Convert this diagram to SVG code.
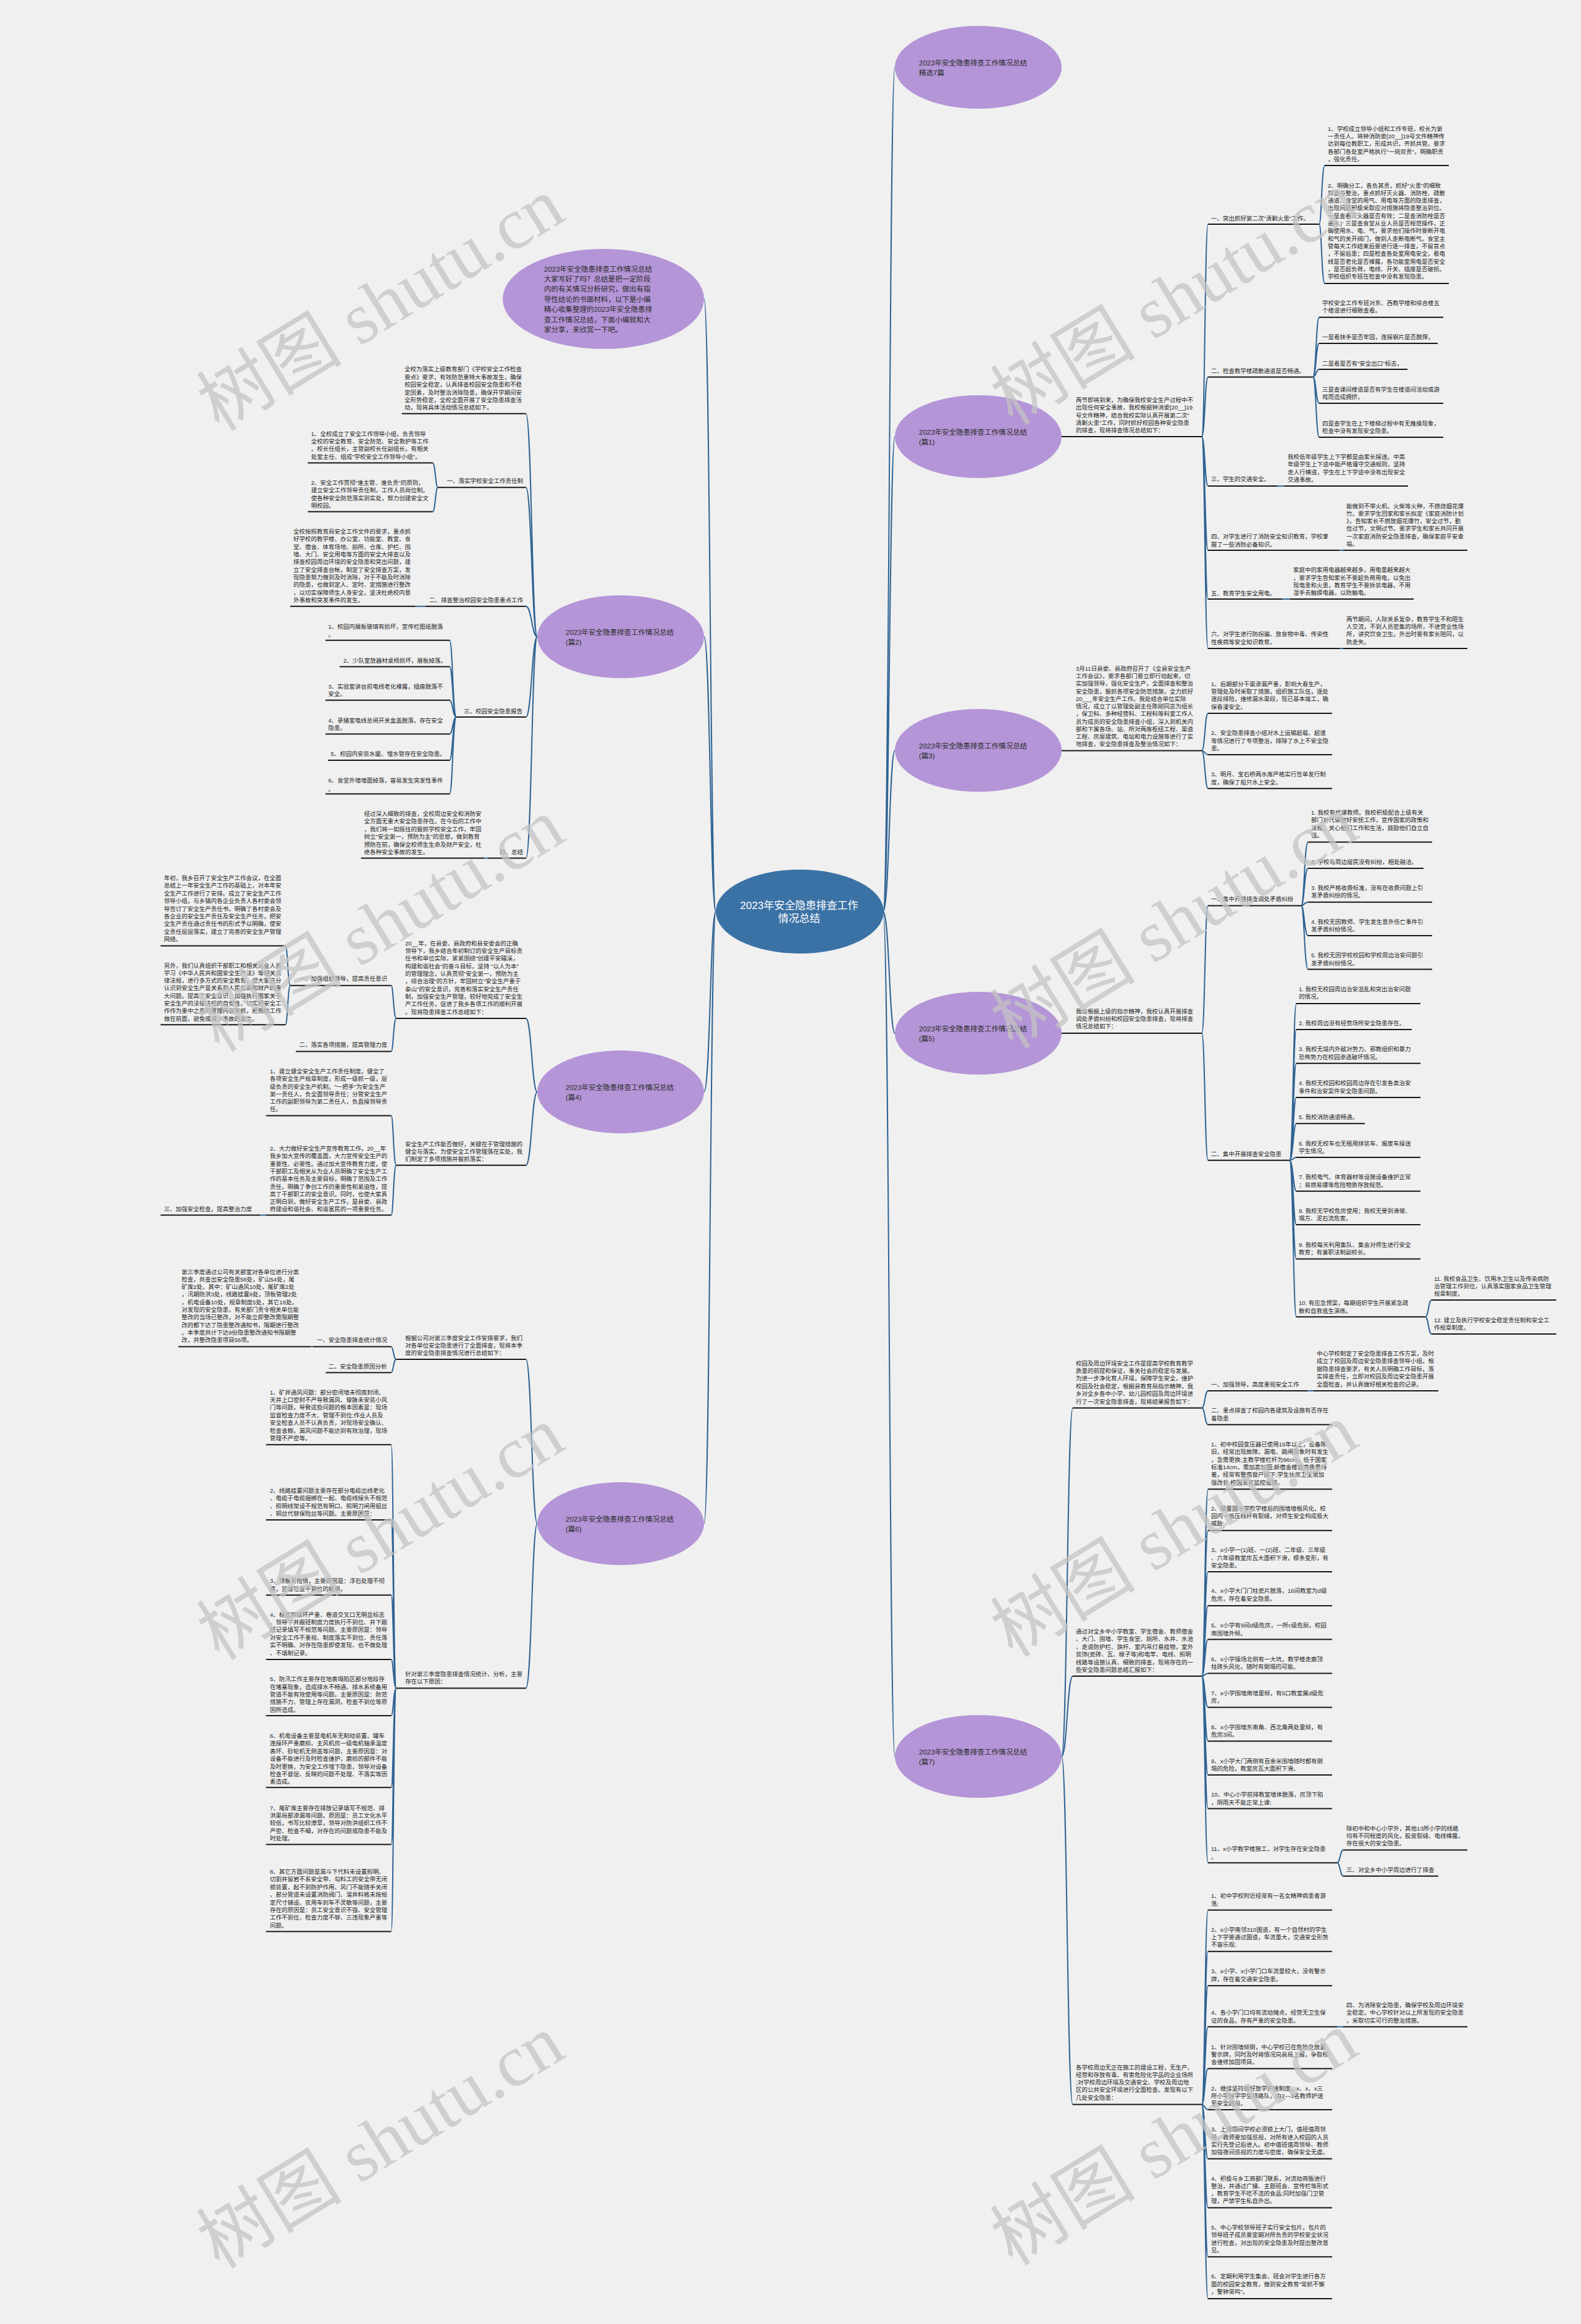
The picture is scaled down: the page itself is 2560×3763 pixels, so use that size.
<svg xmlns="http://www.w3.org/2000/svg" width="2560" height="3763" viewBox="0 0 2560 3763">
<style>
.t{font-family:'Liberation Sans','Noto Sans CJK SC',sans-serif;font-size:9.5px;fill:#1e1e1e}
.et{font-family:'Liberation Sans','Noto Sans CJK SC',sans-serif;font-size:11.5px;fill:#2a2a2a}
.ct{font-family:'Liberation Sans','Noto Sans CJK SC',sans-serif;font-size:17px;fill:#ffffff;text-anchor:middle}
.u{stroke:#161616;stroke-width:2;fill:none}
.c{stroke:#2f6393;stroke-width:2;fill:none}
.e{fill:#b495d7}
.wm{font-family:'Liberation Serif','Noto Sans CJK SC',serif;font-size:118px;fill:#c4c4c4;opacity:.75}
</style>
<rect width="2560" height="3763" fill="#f0f0f0"/>
<g id="connectors">
<path class="c" d="M1430 1476C1440 1476 1440 109 1449 109M1430 1476C1440 1476 1440 707 1449 707M1430 1476C1440 1476 1440 1215 1449 1215M1430 1476C1440 1476 1440 1673 1449 1673M1430 1476C1440 1476 1440 2844 1449 2844"/>
<path class="c" d="M1159 1476C1150 1476 1150 484 1140 484M1159 1476C1150 1476 1150 1031 1140 1031M1159 1476C1150 1476 1150 1768 1140 1768M1159 1476C1150 1476 1150 2467 1140 2467"/>
<path class="c" d="M1946 707C1951 707 1951 363 1956 363M1946 707C1951 707 1951 610.5 1956 610.5M1946 707C1951 707 1951 787 1956 787M1946 707C1951 707 1951 891 1956 891M1946 707C1951 707 1951 970 1956 970M1946 707C1951 707 1951 1050 1956 1050"/>
<path class="c" d="M2136 363C2140 363 2140 268 2145 268M2136 363C2140 363 2140 459 2145 459"/>
<path class="c" d="M2126 610.5C2131 610.5 2131 513.7 2136 513.7M2126 610.5C2131 610.5 2131 556 2136 556M2126 610.5C2131 610.5 2131 598 2136 598M2126 610.5C2131 610.5 2131 653 2136 653M2126 610.5C2131 610.5 2131 708 2136 708"/>
<path class="c" d="M2068 787H2080M2169 891H2175M2076 970H2089M2169 1050H2175"/>
<path class="c" d="M1946 1215.5C1951 1215.5 1951 1155 1956 1155M1946 1215.5C1951 1215.5 1951 1222 1956 1222M1946 1215.5C1951 1215.5 1951 1276.7 1956 1276.7"/>
<path class="c" d="M1946 1673C1951 1673 1951 1466.5 1956 1466.5M1946 1673C1951 1673 1951 1878.7 1956 1878.7"/>
<path class="c" d="M2107 1466.5C2112 1466.5 2112 1363.6 2118 1363.6M2107 1466.5C2112 1466.5 2112 1406 2118 1406M2107 1466.5C2112 1466.5 2112 1460.7 2118 1460.7M2107 1466.5C2112 1466.5 2112 1515 2118 1515M2107 1466.5C2112 1466.5 2112 1569.4 2118 1569.4"/>
<path class="c" d="M2088 1878.7C2094 1878.7 2094 1625 2099 1625M2088 1878.7C2094 1878.7 2094 1667 2099 1667M2088 1878.7C2094 1878.7 2094 1721.7 2099 1721.7M2088 1878.7C2094 1878.7 2094 1776.9 2099 1776.9M2088 1878.7C2094 1878.7 2094 1819.3 2099 1819.3M2088 1878.7C2094 1878.7 2094 1874 2099 1874M2088 1878.7C2094 1878.7 2094 1928.8 2099 1928.8M2088 1878.7C2094 1878.7 2094 1983 2099 1983M2088 1878.7C2094 1878.7 2094 2038.6 2099 2038.6M2088 1878.7C2094 1878.7 2094 2132.3 2099 2132.3"/>
<path class="c" d="M2308 2132.3C2313 2132.3 2313 2105 2318 2105M2308 2132.3C2313 2132.3 2313 2160 2318 2160"/>
<path class="c" d="M1719 2844C1728 2844 1728 2279.7 1737 2279.7M1719 2844C1728 2844 1728 2714 1737 2714M1719 2844C1728 2844 1728 3407.6 1737 3407.6"/>
<path class="c" d="M1946 2279.7C1951 2279.7 1951 2252 1956 2252M1946 2279.7C1951 2279.7 1951 2306.8 1956 2306.8M2117 2252H2127"/>
<path class="c" d="M1946 2714C1951 2714 1951 2411.3 1956 2411.3M1946 2714C1951 2714 1951 2478.3 1956 2478.3M1946 2714C1951 2714 1951 2545 1956 2545M1946 2714C1951 2714 1951 2600 1956 2600M1946 2714C1951 2714 1951 2654.6 1956 2654.6M1946 2714C1951 2714 1951 2709.4 1956 2709.4M1946 2714C1951 2714 1951 2764.5 1956 2764.5M1946 2714C1951 2714 1951 2819.2 1956 2819.2M1946 2714C1951 2714 1951 2874 1956 2874M1946 2714C1951 2714 1951 2928.6 1956 2928.6M1946 2714C1951 2714 1951 3016.3 1956 3016.3"/>
<path class="c" d="M2165 3016.3C2170 3016.3 2170 2995.6 2175 2995.6M2165 3016.3C2170 3016.3 2170 3037.7 2175 3037.7"/>
<path class="c" d="M1946 3407.6C1951 3407.6 1951 3092.8 1956 3092.8M1946 3407.6C1951 3407.6 1951 3159.8 1956 3159.8M1946 3407.6C1951 3407.6 1951 3215.2 1956 3215.2M1946 3407.6C1951 3407.6 1951 3281.8 1956 3281.8M1946 3407.6C1951 3407.6 1951 3349.5 1956 3349.5M1946 3407.6C1951 3407.6 1951 3416 1956 3416M1946 3407.6C1951 3407.6 1951 3495.6 1956 3495.6M1946 3407.6C1951 3407.6 1951 3574.8 1956 3574.8M1946 3407.6C1951 3407.6 1951 3654.3 1956 3654.3M1946 3407.6C1951 3407.6 1951 3722 1956 3722M2165 3281.8H2175"/>
<path class="c" d="M870 1031C861 1031 861 669.8 851.6 669.8M870 1031C861 1031 861 789.2 851.6 789.2M870 1031C861 1031 861 981.7 851.6 981.7M870 1031C861 1031 861 1161 851.6 1161M870 1031C861 1031 861 1389.6 851.6 1389.6"/>
<path class="c" d="M709 789.2C705 789.2 705 749.4 700.6 749.4M709 789.2C705 789.2 705 828.6 700.6 828.6M689 981.7H672M790 1389.6H784.5"/>
<path class="c" d="M739 1161C733 1161 733 1036.7 728 1036.7M739 1161C733 1161 733 1079.6 728 1079.6M739 1161C733 1161 733 1133.8 728 1133.8M739 1161C733 1161 733 1188.5 728 1188.5M739 1161C733 1161 733 1231 728 1231M739 1161C733 1161 733 1285.6 728 1285.6"/>
<path class="c" d="M870 1768C861 1768 861 1649 851.6 1649M870 1768C861 1768 861 1886.8 851.6 1886.8"/>
<path class="c" d="M641.7 1649C637 1649 637 1595.7 633.5 1595.7M641.7 1649C637 1649 637 1702.4 633.5 1702.4M470 1595.7C466 1595.7 466 1531.6 462 1531.6M470 1595.7C466 1595.7 466 1659.2 462 1659.2"/>
<path class="c" d="M641.7 1886.8C637 1886.8 637 1806.5 633.5 1806.5M641.7 1886.8C637 1886.8 637 1967.6 633.5 1967.6M430.7 1967.6H421"/>
<path class="c" d="M870 2467C861 2467 861 2201 851.6 2201M870 2467C861 2467 861 2733.6 851.6 2733.6"/>
<path class="c" d="M641.7 2201C637 2201 637 2180.6 633.5 2180.6M641.7 2201C637 2201 637 2222.6 633.5 2222.6M507 2180.6H503"/>
<path class="c" d="M641.7 2733.6C637 2733.6 637 2339.2 633.5 2339.2M641.7 2733.6C637 2733.6 637 2461 633.5 2461M641.7 2733.6C637 2733.6 637 2582.8 633.5 2582.8M641.7 2733.6C637 2733.6 637 2687 633.5 2687M641.7 2733.6C637 2733.6 637 2778 633.5 2778M641.7 2733.6C637 2733.6 637 2894.3 633.5 2894.3M641.7 2733.6C637 2733.6 637 2986.5 633.5 2986.5M641.7 2733.6C637 2733.6 637 3127.4 633.5 3127.4"/>
</g>
<g id="center"><ellipse cx="1295" cy="1476" rx="136" ry="68" fill="#3b72a5"/><text class="ct" x="1294" y="1472">2023年安全隐患排查工作</text><text class="ct" x="1294" y="1493">情况总结</text></g>
<g id="b-intro"><ellipse class="e" cx="977" cy="484" rx="163" ry="81"/><text class="et" x="881" y="439.6"><tspan x="881">2023年安全隐患排查工作情况总结</tspan><tspan x="881" dy="16.4">大家写好了吗？总结是把一定阶段</tspan><tspan x="881" dy="16.4">内的有关情况分析研究，做出有指</tspan><tspan x="881" dy="16.4">导性结论的书面材料，以下是小编</tspan><tspan x="881" dy="16.4">精心收集整理的2023年安全隐患排</tspan><tspan x="881" dy="16.4">查工作情况总结，下面小编就和大</tspan><tspan x="881" dy="16.4">家分享，来欣赏一下吧。</tspan></text></g>
<g id="b-jx"><ellipse class="e" cx="1584" cy="109" rx="135" ry="67"/><text class="et" x="1488" y="106"><tspan x="1488">2023年安全隐患排查工作情况总结</tspan><tspan x="1488" dy="16">精选7篇</tspan></text></g>
<g id="b-p1"><ellipse class="e" cx="1584" cy="707" rx="135" ry="67"/><text class="et" x="1488" y="704"><tspan x="1488">2023年安全隐患排查工作情况总结</tspan><tspan x="1488" dy="16">(篇1)</tspan></text></g>
<g id="b-p3"><ellipse class="e" cx="1584" cy="1215" rx="135" ry="67"/><text class="et" x="1488" y="1212"><tspan x="1488">2023年安全隐患排查工作情况总结</tspan><tspan x="1488" dy="16">(篇3)</tspan></text></g>
<g id="b-p5"><ellipse class="e" cx="1584" cy="1673" rx="135" ry="67"/><text class="et" x="1488" y="1670"><tspan x="1488">2023年安全隐患排查工作情况总结</tspan><tspan x="1488" dy="16">(篇5)</tspan></text></g>
<g id="b-p7"><ellipse class="e" cx="1584" cy="2844" rx="135" ry="67"/><text class="et" x="1488" y="2841"><tspan x="1488">2023年安全隐患排查工作情况总结</tspan><tspan x="1488" dy="16">(篇7)</tspan></text></g>
<g id="b-p2"><ellipse class="e" cx="1005" cy="1031" rx="135" ry="67"/><text class="et" x="916" y="1028"><tspan x="916">2023年安全隐患排查工作情况总结</tspan><tspan x="916" dy="16">(篇2)</tspan></text></g>
<g id="b-p4"><ellipse class="e" cx="1005" cy="1768" rx="135" ry="67"/><text class="et" x="916" y="1765"><tspan x="916">2023年安全隐患排查工作情况总结</tspan><tspan x="916" dy="16">(篇4)</tspan></text></g>
<g id="b-p6"><ellipse class="e" cx="1005" cy="2467" rx="135" ry="67"/><text class="et" x="916" y="2464"><tspan x="916">2023年安全隐患排查工作情况总结</tspan><tspan x="916" dy="16">(篇6)</tspan></text></g>

<g id="p1-intro"><text class="t" x="1742" y="651"><tspan x="1742">两节即将到来，为确保我校安全生产过程中不</tspan><tspan x="1742" dy="12.3">出现任何安全事故，我校根据钟消委[20__]19</tspan><tspan x="1742" dy="12.3">号文件精神，结合我校实际认真开展第二次"</tspan><tspan x="1742" dy="12.3">清剿火患"工作，同时抓好校园各种安全隐患</tspan><tspan x="1742" dy="12.3">的排查，现将排查情况总结如下：</tspan></text><path class="u" d="M1719 707H1946"/></g>
<g id="p1-1"><text class="t" x="1961" y="356.5">一、突出抓好第二次"清剿火患"工作。</text><path class="u" d="M1956 363H2136"/></g>
<g id="p1-1-1"><text class="t" x="2150" y="211.5"><tspan x="2150">1、学校成立领导小组和工作专班，校长为第</tspan><tspan x="2150" dy="12.4">一责任人。将钟消防委[20__]19号文件精神传</tspan><tspan x="2150" dy="12.4">达到每位教职工，形成共识，齐抓共管。要求</tspan><tspan x="2150" dy="12.4">各部门各处室严格执行"一岗双责"，明确职责</tspan><tspan x="2150" dy="12.4">，强化责任。</tspan></text><path class="u" d="M2145 268H2346"/></g>
<g id="p1-1-2"><text class="t" x="2150" y="303.5"><tspan x="2150">2、明确分工，各负其责，抓好"火患"的细致</tspan><tspan x="2150" dy="12.33">排查与整治，重点抓好灭火器、消防栓、疏散</tspan><tspan x="2150" dy="12.33">通道、食堂的用气、用电等方面的隐患排查，</tspan><tspan x="2150" dy="12.33">出现问题积极采取应对措施将隐患整治到位。</tspan><tspan x="2150" dy="12.33">一是查看灭火器是否有效；二是查消防栓是否</tspan><tspan x="2150" dy="12.33">通水；三是查食堂从业人员是否规范操作，正</tspan><tspan x="2150" dy="12.33">确使用水、电、气，要求他们操作时要断开电</tspan><tspan x="2150" dy="12.33">和气的关开阀门，做到人走断电断气。食堂主</tspan><tspan x="2150" dy="12.33">管每天工作结束后要进行逐一排查，不留盲点</tspan><tspan x="2150" dy="12.33">，不留后患；四是检查各处室用电安全，看电</tspan><tspan x="2150" dy="12.33">线是否老化是否裸露，各功能室用电是否安全</tspan><tspan x="2150" dy="12.33">，是否超负荷，电线、开关、插座是否破损。</tspan><tspan x="2150" dy="12.33">学校组织专班在检查中没有发现隐患。</tspan></text><path class="u" d="M2145 459H2346"/></g>
<g id="p1-2"><text class="t" x="1961" y="603.5">二、检查教学楼疏散通道是否畅通。</text><path class="u" d="M1956 610.5H2126"/></g>
<g id="p1-2-a"><text class="t" x="2141" y="493.5"><tspan x="2141">学校安全工作专班对东、西教学楼和综合楼五</tspan><tspan x="2141" dy="12.5">个楼道进行细致查看。</tspan></text><path class="u" d="M2136 513.7H2337"/></g>
<g id="p1-2-b"><text class="t" x="2141" y="549">一是看扶手是否牢固，连接钢片是否脱焊，</text><path class="u" d="M2136 556H2328"/></g>
<g id="p1-2-c"><text class="t" x="2141" y="591.5">二是看是否有"安全出口"标志，</text><path class="u" d="M2136 598H2279"/></g>
<g id="p1-2-d"><text class="t" x="2141" y="634"><tspan x="2141">三是查课间楼道是否有学生在楼道间活动或游</tspan><tspan x="2141" dy="12.3">戏而造成拥挤，</tspan></text><path class="u" d="M2136 653H2337"/></g>
<g id="p1-2-e"><text class="t" x="2141" y="688.5"><tspan x="2141">四是查学生在上下楼梯过程中有无推搡现象，</tspan><tspan x="2141" dy="12.3">检查中没有发现安全隐患。</tspan></text><path class="u" d="M2136 708H2337"/></g>
<g id="p1-3"><text class="t" x="1961" y="779">三、学生的交通安全。</text><path class="u" d="M1956 787H2068"/></g>
<g id="p1-3-a"><text class="t" x="2085" y="743"><tspan x="2085">我校低年级学生上下学都是由家长接送。中高</tspan><tspan x="2085" dy="12.3">年级学生上下途中能严格遵守交通规则，坚持</tspan><tspan x="2085" dy="12.3">走人行横道，学生在上下学途中没有出现安全</tspan><tspan x="2085" dy="12.3">交通事故。</tspan></text><path class="u" d="M2080 787H2280"/></g>
<g id="p1-4"><text class="t" x="1961" y="872.3"><tspan x="1961">四、对学生进行了消防安全知识教育，学校掌</tspan><tspan x="1961" dy="12.3">握了一些消防必备知识。</tspan></text><path class="u" d="M1956 891H2169"/></g>
<g id="p1-4-a"><text class="t" x="2180" y="822.5"><tspan x="2180">能做到不带火机、火柴等火种，不燃烧烟花爆</tspan><tspan x="2180" dy="12.3">竹。要求学生回家和家长拟定《家庭消防计划</tspan><tspan x="2180" dy="12.3">》，告知家长不燃放烟花爆竹，安全过节，勤</tspan><tspan x="2180" dy="12.3">俭过节，文明过节。要求学生和家长共同开展</tspan><tspan x="2180" dy="12.3">一次家庭消防安全隐患排查，确保家庭平安幸</tspan><tspan x="2180" dy="12.3">福。</tspan></text><path class="u" d="M2175 891H2376"/></g>
<g id="p1-5"><text class="t" x="1961" y="963.5">五、教育学生安全用电。</text><path class="u" d="M1956 970H2076"/></g>
<g id="p1-5-a"><text class="t" x="2094" y="926.2"><tspan x="2094">家庭中的家用电器越来越多，用电量越来越大</tspan><tspan x="2094" dy="12.3">，要求学生告知家长不要超负荷用电，以免出</tspan><tspan x="2094" dy="12.3">现电患和火患，教育学生不要拆装电器，不用</tspan><tspan x="2094" dy="12.3">湿手去触摸电器，以防触电。</tspan></text><path class="u" d="M2089 970H2289"/></g>
<g id="p1-6"><text class="t" x="1961" y="1030.3"><tspan x="1961">六、对学生进行防拐骗、放食物中毒、传染性</tspan><tspan x="1961" dy="12.3">性疾病等安全知识教育。</tspan></text><path class="u" d="M1956 1050H2169"/></g>
<g id="p1-6-a"><text class="t" x="2180" y="1005.8"><tspan x="2180">两节期间，人际关系复杂，教育学生不和陌生</tspan><tspan x="2180" dy="12.3">人交流，不到人员密集的场所，不进营业性场</tspan><tspan x="2180" dy="12.3">所，讲究饮食卫生。外出时要有家长陪同，以</tspan><tspan x="2180" dy="12.3">防走失。</tspan></text><path class="u" d="M2175 1050H2376"/></g>

<g id="p3-intro"><text class="t" x="1742" y="1085.8"><tspan x="1742">3月11日县委、县政府召开了《全县安全生产</tspan><tspan x="1742" dy="12.25">工作会议》，要求各部门要立即行动起来，切</tspan><tspan x="1742" dy="12.25">实加强领导，强化安全生产，全面排查和整治</tspan><tspan x="1742" dy="12.25">安全隐患，狠抓各项安全防范措施，全力抓好</tspan><tspan x="1742" dy="12.25">20___年安全生产工作。我处结合单位实际</tspan><tspan x="1742" dy="12.25">情况，成立了以管理处副主任陈刚同志为组长</tspan><tspan x="1742" dy="12.25">，保卫科、多种经营科、工程科等科室工作人</tspan><tspan x="1742" dy="12.25">员为成员的安全隐患排查小组，深入到机关内</tspan><tspan x="1742" dy="12.25">部和下属各场、站、所对两库枢纽工程、渠道</tspan><tspan x="1742" dy="12.25">工程、房屋建筑、电站和电力设施等进行了实</tspan><tspan x="1742" dy="12.25">地排查，安全隐患排查及整治情况如下：</tspan></text><path class="u" d="M1719 1215.5H1946"/></g>
<g id="p3-1"><text class="t" x="1961" y="1110.7"><tspan x="1961">1、后期部分干渠渗漏严重，影响大春生产，</tspan><tspan x="1961" dy="12.3">管理处及时采取了措施，组织施工队伍，逐处</tspan><tspan x="1961" dy="12.3">逐段排险，维修漏水渠段，现已基本竣工，确</tspan><tspan x="1961" dy="12.3">保春灌安全。</tspan></text><path class="u" d="M1956 1155H2157"/></g>
<g id="p3-2"><text class="t" x="1961" y="1190.3"><tspan x="1961">2、安全隐患排查小组对水上运输超载、超速</tspan><tspan x="1961" dy="12.3">等情况进行了专项整治，排除了水上不安全隐</tspan><tspan x="1961" dy="12.3">患。</tspan></text><path class="u" d="M1956 1222H2157"/></g>
<g id="p3-3"><text class="t" x="1961" y="1257.3"><tspan x="1961">3、明月、宝石桥两水库严格实行签单发行制</tspan><tspan x="1961" dy="12.3">度，确保了船只水上安全。</tspan></text><path class="u" d="M1956 1276.7H2157"/></g>

<g id="p5-intro"><text class="t" x="1742" y="1640.5"><tspan x="1742">我校根据上级的指示精神，我校认真开展排查</tspan><tspan x="1742" dy="12.4">调处矛盾纠纷和校园安全隐患排查，现将排查</tspan><tspan x="1742" dy="12.4">情况总结如下：</tspan></text><path class="u" d="M1719 1673H1946"/></g>
<g id="p5-1"><text class="t" x="1961" y="1459.3">一、集中开展排查调处矛盾纠纷</text><path class="u" d="M1956 1466.5H2107"/></g>
<g id="p5-1-1"><text class="t" x="2123" y="1318.5"><tspan x="2123">1. 我校有代课教师。我校积极配合上级有关</tspan><tspan x="2123" dy="12.5">部门对代课做好安抚工作，宣传国家的政策和</tspan><tspan x="2123" dy="12.5">法规，关心他们工作和生活，鼓励他们自立自</tspan><tspan x="2123" dy="12.5">强。</tspan></text><path class="u" d="M2118 1363.6H2319"/></g>
<g id="p5-1-2"><text class="t" x="2123" y="1398.8">2. 学校与周边居民没有纠纷，相处融洽。</text><path class="u" d="M2118 1406H2305"/></g>
<g id="p5-1-3"><text class="t" x="2123" y="1441"><tspan x="2123">3. 我校严格收费标准，没有在收费问题上引</tspan><tspan x="2123" dy="12.3">发矛盾纠纷的情况。</tspan></text><path class="u" d="M2118 1460.7H2319"/></g>
<g id="p5-1-4"><text class="t" x="2123" y="1495.5"><tspan x="2123">4. 我校无因教师、学生发生意外伤亡事件引</tspan><tspan x="2123" dy="12.3">发矛盾纠纷情况。</tspan></text><path class="u" d="M2118 1515H2319"/></g>
<g id="p5-1-5"><text class="t" x="2123" y="1550.4"><tspan x="2123">5. 我校无因学校校园和学校周边治安问题引</tspan><tspan x="2123" dy="12.3">发矛盾纠纷情况。</tspan></text><path class="u" d="M2118 1569.4H2319"/></g>
<g id="p5-2"><text class="t" x="1961" y="1871.8">二、集中开展排查安全隐患</text><path class="u" d="M1956 1878.7H2088"/></g>
<g id="p5-2-1"><text class="t" x="2103" y="1604.7"><tspan x="2103">1. 我校无校园周边治安混乱和突出治安问题</tspan><tspan x="2103" dy="12.3">的情况。</tspan></text><path class="u" d="M2099 1625H2300"/></g>
<g id="p5-2-2"><text class="t" x="2103" y="1659.8">2. 我校周边没有经营场所安全隐患存在。</text><path class="u" d="M2099 1667H2286"/></g>
<g id="p5-2-3"><text class="t" x="2103" y="1702.3"><tspan x="2103">3. 我校无境内外敌对势力、邪教组织和暴力</tspan><tspan x="2103" dy="12.3">恐怖势力在校园渗透破坏情况。</tspan></text><path class="u" d="M2099 1721.7H2300"/></g>
<g id="p5-2-4"><text class="t" x="2103" y="1757.4"><tspan x="2103">4. 我校无校园和校园周边存在引发各类治安</tspan><tspan x="2103" dy="12.3">事件和治安案件安全隐患问题。</tspan></text><path class="u" d="M2099 1776.9H2300"/></g>
<g id="p5-2-5"><text class="t" x="2103" y="1812">5. 我校消防通道畅通。</text><path class="u" d="M2099 1819.3H2210"/></g>
<g id="p5-2-6"><text class="t" x="2103" y="1854.5"><tspan x="2103">6. 我校无校车也无租用拼装车、报废车接送</tspan><tspan x="2103" dy="12.3">学生情况。</tspan></text><path class="u" d="M2099 1874H2300"/></g>
<g id="p5-2-7"><text class="t" x="2103" y="1909.3"><tspan x="2103">7. 我校电气、体育器材等设施设备维护正常</tspan><tspan x="2103" dy="12.3">；易燃易爆等危险物质存放规范。</tspan></text><path class="u" d="M2099 1928.8H2300"/></g>
<g id="p5-2-8"><text class="t" x="2103" y="1964.1"><tspan x="2103">8. 我校无学校危房使用；我校无受到滑坡、</tspan><tspan x="2103" dy="12.3">塌方、泥石流危害。</tspan></text><path class="u" d="M2099 1983H2300"/></g>
<g id="p5-2-9"><text class="t" x="2103" y="2018.7"><tspan x="2103">9. 我校每天利用集队、集会对师生进行安全</tspan><tspan x="2103" dy="12.3">教育；有兼职法制副校长。</tspan></text><path class="u" d="M2099 2038.6H2300"/></g>
<g id="p5-2-10"><text class="t" x="2103" y="2113.2"><tspan x="2103">10. 有应急预案，每期组织学生开展紧急疏</tspan><tspan x="2103" dy="12.3">散和自救逃生演练。</tspan></text><path class="u" d="M2099 2132.3H2308"/></g>
<g id="p5-2-11"><text class="t" x="2322" y="2073.8"><tspan x="2322">11. 我校食品卫生、饮用水卫生以及传染病防</tspan><tspan x="2322" dy="12.3">治管理工作到位，认真落实国家食品卫生管理</tspan><tspan x="2322" dy="12.3">规章制度。</tspan></text><path class="u" d="M2318 2105H2520"/></g>
<g id="p5-2-12"><text class="t" x="2322" y="2140.5"><tspan x="2322">12. 建立及执行学校安全稳定责任制和安全工</tspan><tspan x="2322" dy="12.3">作规章制度。</tspan></text><path class="u" d="M2318 2160H2520"/></g>

<g id="p7-a"><text class="t" x="1742" y="2210.5"><tspan x="1742">校园及周边环境安全工作是提高学校教育教学</tspan><tspan x="1742" dy="12.4">质量的前提和保证，事关社会的稳定与发展。</tspan><tspan x="1742" dy="12.4">为进一步净化育人环境，保障学生安全，维护</tspan><tspan x="1742" dy="12.4">校园及社会稳定，根据县教育局指示精神，我</tspan><tspan x="1742" dy="12.4">乡对全乡各中小学、幼儿园校园及周边环境进</tspan><tspan x="1742" dy="12.4">行了一次安全隐患排查，现将结果报告如下：</tspan></text><path class="u" d="M1737 2279.7H1946"/></g>
<g id="p7-a-1"><text class="t" x="1961" y="2245">一、加强领导，高度重视安全工作</text><path class="u" d="M1956 2252H2117"/></g>
<g id="p7-a-1-a"><text class="t" x="2132" y="2195"><tspan x="2132">中心学校制定了安全隐患排查工作方案，及时</tspan><tspan x="2132" dy="12.4">成立了校园及周边安全隐患排查领导小组。根</tspan><tspan x="2132" dy="12.4">据隐患排查要求，有关人员明确工作目标，落</tspan><tspan x="2132" dy="12.4">实排查责任，立即对校园及周边安全隐患开展</tspan><tspan x="2132" dy="12.4">全面检查，并认真做好相关检查的记录。</tspan></text><path class="u" d="M2127 2252H2329"/></g>
<g id="p7-a-2"><text class="t" x="1961" y="2287.4"><tspan x="1961">二、重点排查了校园内各建筑及设施有否存在</tspan><tspan x="1961" dy="12.3">着隐患</tspan></text><path class="u" d="M1956 2306.8H2157"/></g>
<g id="p7-b"><text class="t" x="1742" y="2645"><tspan x="1742">通过对全乡中小学教室、学生宿舍、教师宿舍</tspan><tspan x="1742" dy="12.4">、大门、围墙、学生食堂、厕所、水井、水池</tspan><tspan x="1742" dy="12.4">、走道防护栏、旗杆、室内吊灯悬挂物，室外</tspan><tspan x="1742" dy="12.4">装饰(瓷砖、瓦、椽子等)和电竿、电线、照明</tspan><tspan x="1742" dy="12.4">线路等设施认真、细致的排查，现将存在的一</tspan><tspan x="1742" dy="12.4">些安全隐患问题总结汇报如下：</tspan></text><path class="u" d="M1737 2714H1946"/></g>
<g id="p7-b-1"><text class="t" x="1961" y="2342"><tspan x="1961">1、初中校园变压器已使用15年以上，设备陈</tspan><tspan x="1961" dy="12.3">旧，经常出现故障，漏电、跳闸现象时有发生</tspan><tspan x="1961" dy="12.3">，急需更换;主教学楼栏杆为96cm，低于国家</tspan><tspan x="1961" dy="12.3">标准14cm，需加高加固;新宿舍楼窗扇质量特</tspan><tspan x="1961" dy="12.3">差，经常有整扇窗户掉下;学生伙房卫生需加</tspan><tspan x="1961" dy="12.3">强改善;校园没有监控设施。</tspan></text><path class="u" d="M1956 2411.3H2157"/></g>
<g id="p7-b-2"><text class="t" x="1961" y="2445.8"><tspan x="1961">2、镇里固小学教学楼后的围墙墙根风化，校</tspan><tspan x="1961" dy="12.3">园内一低压线杆有裂缝，对师生安全构成极大</tspan><tspan x="1961" dy="12.3">威胁;</tspan></text><path class="u" d="M1956 2478.3H2157"/></g>
<g id="p7-b-3"><text class="t" x="1961" y="2513.2"><tspan x="1961">3、x小学一(1)班、一(2)班、二年级、三年级</tspan><tspan x="1961" dy="12.3">、六年级教室房瓦大面积下滑，檩条变形，有</tspan><tspan x="1961" dy="12.3">安全隐患。</tspan></text><path class="u" d="M1956 2545H2157"/></g>
<g id="p7-b-4"><text class="t" x="1961" y="2579.4"><tspan x="1961">4、x小学大门门柱瓷片脱落，16间教室为d级</tspan><tspan x="1961" dy="12.3">危房，存在着安全隐患。</tspan></text><path class="u" d="M1956 2600H2157"/></g>
<g id="p7-b-5"><text class="t" x="1961" y="2635.2"><tspan x="1961">5、x小学有9间d级危房，一所c级危厕，校园</tspan><tspan x="1961" dy="12.3">南围墙外倾。</tspan></text><path class="u" d="M1956 2654.6H2157"/></g>
<g id="p7-b-6"><text class="t" x="1961" y="2690"><tspan x="1961">6、x小学操场北侧有一大坑，教学楼走廊顶</tspan><tspan x="1961" dy="12.3">柱砖头风化，随时有倒塌的可能。</tspan></text><path class="u" d="M1956 2709.4H2157"/></g>
<g id="p7-b-7"><text class="t" x="1961" y="2744.5"><tspan x="1961">7、x小学围墙南墙里倾，有5口教室属d级危</tspan><tspan x="1961" dy="12.3">房，</tspan></text><path class="u" d="M1956 2764.5H2157"/></g>
<g id="p7-b-8"><text class="t" x="1961" y="2799.7"><tspan x="1961">8、x小学围墙东南角、西北角两处里倾，有</tspan><tspan x="1961" dy="12.3">危房3间。</tspan></text><path class="u" d="M1956 2819.2H2157"/></g>
<g id="p7-b-9"><text class="t" x="1961" y="2854.5"><tspan x="1961">9、x小学大门两侧有百余米围墙随时都有倒</tspan><tspan x="1961" dy="12.3">塌的危险，教室房瓦大面积下滑。</tspan></text><path class="u" d="M1956 2874H2157"/></g>
<g id="p7-b-10"><text class="t" x="1961" y="2909.2"><tspan x="1961">10、中心小学前排教室墙体脱落，房顶下陷</tspan><tspan x="1961" dy="12.3">，阴雨天不能正常上课;</tspan></text><path class="u" d="M1956 2928.6H2157"/></g>
<g id="p7-b-11"><text class="t" x="1961" y="2997.2"><tspan x="1961">11、x小学教学楼施工，对学生存在安全隐患</tspan><tspan x="1961" dy="12.3">。</tspan></text><path class="u" d="M1956 3016.3H2165"/></g>
<g id="p7-b-11-a"><text class="t" x="2180" y="2963.5"><tspan x="2180">除初中和中心小学外，其他13所小学的线路</tspan><tspan x="2180" dy="12.3">均有不同程度的风化，胶皮裂缝、电线裸露，</tspan><tspan x="2180" dy="12.3">存在很大的安全隐患。</tspan></text><path class="u" d="M2175 2995.6H2376"/></g>
<g id="p7-b-11-b"><text class="t" x="2180" y="3030.5">三、对全乡中小学周边进行了排查</text><path class="u" d="M2175 3037.7H2329"/></g>
<g id="p7-c"><text class="t" x="1742" y="3350.7"><tspan x="1742">各学校周边无正在施工的建设工程，无生产、</tspan><tspan x="1742" dy="12.2">经营和存放有毒、有害危险化学品的企业场所</tspan><tspan x="1742" dy="12.2">;对学校周边环境及交通安全、学校及周边地</tspan><tspan x="1742" dy="12.2">区的公共安全环境进行全面检查。发现有以下</tspan><tspan x="1742" dy="12.2">几处安全隐患：</tspan></text><path class="u" d="M1737 3407.6H1946"/></g>
<g id="p7-c-z1"><text class="t" x="1961" y="3073.4"><tspan x="1961">1、初中学校附近经常有一名女精神病患者游</tspan><tspan x="1961" dy="12.3">荡;</tspan></text><path class="u" d="M1956 3092.8H2157"/></g>
<g id="p7-c-z2"><text class="t" x="1961" y="3127.7"><tspan x="1961">2、x小学南邻310国道，有一个自然村的学生</tspan><tspan x="1961" dy="12.3">上下学要通过国道，车流量大，交通安全形势</tspan><tspan x="1961" dy="12.3">不容乐观;</tspan></text><path class="u" d="M1956 3159.8H2157"/></g>
<g id="p7-c-z3"><text class="t" x="1961" y="3195.3"><tspan x="1961">3、x小学、x小学门口车流量较大，没有警示</tspan><tspan x="1961" dy="12.3">牌，存在着交通安全隐患。</tspan></text><path class="u" d="M1956 3215.2H2157"/></g>
<g id="p7-c-z4"><text class="t" x="1961" y="3262.3"><tspan x="1961">4、各小学门口均有流动摊点，经营无卫生保</tspan><tspan x="1961" dy="12.3">证的食品，存有严重的安全隐患。</tspan></text><path class="u" d="M1956 3281.8H2165"/></g>
<g id="p7-c-z4-a"><text class="t" x="2180" y="3250"><tspan x="2180">四、为消除安全隐患，确保学校及周边环境安</tspan><tspan x="2180" dy="12.3">全稳定。中心学校针对以上所发现的安全隐患</tspan><tspan x="2180" dy="12.3">，采取切实可行的整治措施。</tspan></text><path class="u" d="M2175 3281.8H2376"/></g>
<g id="p7-c-m1"><text class="t" x="1961" y="3317.5"><tspan x="1961">1、针对围墙倾倒，中心学校已在危险处放置</tspan><tspan x="1961" dy="12.2">警示牌，同时及时将情况向县局上报，争取校</tspan><tspan x="1961" dy="12.2">舍维修加固项目。</tspan></text><path class="u" d="M1956 3349.5H2157"/></g>
<g id="p7-c-m2"><text class="t" x="1961" y="3384.8"><tspan x="1961">2、继续坚持做好放学护送制度。x、x、x三</tspan><tspan x="1961" dy="12.2">所小学放学学生排路队，由2—3名教师护送</tspan><tspan x="1961" dy="12.2">至安全路段。</tspan></text><path class="u" d="M1956 3416H2157"/></g>
<g id="p7-c-m3"><text class="t" x="1961" y="3451.4"><tspan x="1961">3、上课期间学校必须锁上大门，值班值周领</tspan><tspan x="1961" dy="12.2">导、教师要加强巡视，对所有进入校园的人员</tspan><tspan x="1961" dy="12.2">实行先登记后进入。初中值班值周领导、教师</tspan><tspan x="1961" dy="12.2">加强夜间巡视的力度与密度，确保安全无虞。</tspan></text><path class="u" d="M1956 3495.6H2157"/></g>
<g id="p7-c-m4"><text class="t" x="1961" y="3530.5"><tspan x="1961">4、积极与乡工商部门联系，对流动商贩进行</tspan><tspan x="1961" dy="12.2">整治，并通过广播、主题班会、宣传栏等形式</tspan><tspan x="1961" dy="12.2">，教育学生不吃不洁的食品;同时加强门卫管</tspan><tspan x="1961" dy="12.2">理，严禁学生私自外出。</tspan></text><path class="u" d="M1956 3574.8H2157"/></g>
<g id="p7-c-m5"><text class="t" x="1961" y="3610.1"><tspan x="1961">5、中心学校领导班子实行安全包片，包片的</tspan><tspan x="1961" dy="12.2">领导班子成员要定期对所负责的学校安全状况</tspan><tspan x="1961" dy="12.2">进行检查，对出现的安全隐患及时提出整改意</tspan><tspan x="1961" dy="12.2">见。</tspan></text><path class="u" d="M1956 3654.3H2157"/></g>
<g id="p7-c-m6"><text class="t" x="1961" y="3689.3"><tspan x="1961">6、定期利用学生集会、班会对学生进行各方</tspan><tspan x="1961" dy="12.2">面的校园安全教育，做到安全教育"常抓不懈</tspan><tspan x="1961" dy="12.2">，警钟常鸣"。</tspan></text><path class="u" d="M1956 3722H2157"/></g>

<g id="p2-intro"><text class="t" x="655" y="601.4"><tspan x="655">全校为落实上级教育部门《学校安全工作检查</tspan><tspan x="655" dy="12.4">要点》要求，有效防范重特大事故发生，确保</tspan><tspan x="655" dy="12.4">校园安全稳定，认真排查校园安全隐患和不稳</tspan><tspan x="655" dy="12.4">定因素，及时整治消除隐患，确保开学期间安</tspan><tspan x="655" dy="12.4">全形势稳定，全校全面开展了安全隐患排查活</tspan><tspan x="655" dy="12.4">动，现将具体活动情况总结如下。</tspan></text><path class="u" d="M650.7 669.8H851.6"/></g>
<g id="p2-1"><text class="t" x="723.6" y="782.4">一、落实学校安全工作责任制</text><path class="u" d="M709 789.2H851.6"/></g>
<g id="p2-1-1"><text class="t" x="503.7" y="705.8"><tspan x="503.7">1、全校成立了安全工作领导小组，负责领导</tspan><tspan x="503.7" dy="12.3">全校的安全教育、安全防范、安全救护等工作</tspan><tspan x="503.7" dy="12.3">。校长任组长，主管副校长任副组长，有相关</tspan><tspan x="503.7" dy="12.3">处室主任、组成"学校安全工作领导小组"。</tspan></text><path class="u" d="M498.5 749.4H700.6"/></g>
<g id="p2-1-2"><text class="t" x="503.7" y="785.1"><tspan x="503.7">2、安全工作贯彻"谁主管、谁负责"的原则，</tspan><tspan x="503.7" dy="12.3">建立安全工作领导责任制，工作人员岗位制。</tspan><tspan x="503.7" dy="12.3">使各种安全防范落实到实处，努力创建安全文</tspan><tspan x="503.7" dy="12.3">明校园。</tspan></text><path class="u" d="M498.5 828.6H700.6"/></g>
<g id="p2-2"><text class="t" x="695" y="975">二、排查整治校园安全隐患重点工作</text><path class="u" d="M689 981.7H851.6"/></g>
<g id="p2-2-a"><text class="t" x="475" y="864"><tspan x="475">全校按照教育局安全工作文件的要求，重点抓</tspan><tspan x="475" dy="12.35">好学校的教学楼、办公室、功能室、教室、食</tspan><tspan x="475" dy="12.35">堂、宿舍、体育场地、厕所、仓库、护栏、围</tspan><tspan x="475" dy="12.35">墙、大门、安全用电等方面的安全大排查以及</tspan><tspan x="475" dy="12.35">排查校园周边环境的安全隐患和突出问题，建</tspan><tspan x="475" dy="12.35">立了安全排查台帐，制定了安全排查方案，发</tspan><tspan x="475" dy="12.35">现隐患努力做到及时消除，对于不能及时消除</tspan><tspan x="475" dy="12.35">的隐患，也做到定人、定时、定措施进行整改</tspan><tspan x="475" dy="12.35">，以切实保障师生人身安全，坚决杜绝校内意</tspan><tspan x="475" dy="12.35">外事故和突发事件的发生。</tspan></text><path class="u" d="M470 981.7H672"/></g>
<g id="p2-3"><text class="t" x="751" y="1154.5">三、校园安全隐患报告</text><path class="u" d="M739 1161H851.6"/></g>
<g id="p2-3-1"><text class="t" x="531.5" y="1017.8"><tspan x="531.5">1、校园内展板玻璃有损坏，宣传栏图纸脱落</tspan><tspan x="531.5" dy="13">。</tspan></text><path class="u" d="M527 1036.7H728"/></g>
<g id="p2-3-2"><text class="t" x="556" y="1073">2、少队室放器材桌椅损坏，展板掉落。</text><path class="u" d="M550 1079.6H728"/></g>
<g id="p2-3-3"><text class="t" x="531.5" y="1114.5"><tspan x="531.5">3、实验室讲台前电线老化裸露，插座脱落不</tspan><tspan x="531.5" dy="12.5">安全。</tspan></text><path class="u" d="M527 1133.8H728"/></g>
<g id="p2-3-4"><text class="t" x="531.5" y="1169.5"><tspan x="531.5">4、录播室电线总闸开关盒盖脱落，存在安全</tspan><tspan x="531.5" dy="12.3">隐患。</tspan></text><path class="u" d="M527 1188.5H728"/></g>
<g id="p2-3-5"><text class="t" x="535.6" y="1224.2">5、校园内安装水暖、埋水管存在安全隐患。</text><path class="u" d="M531 1231H728"/></g>
<g id="p2-3-6"><text class="t" x="531.5" y="1266.5"><tspan x="531.5">6、食堂外墙墙面掉落，容易发生突发性事件</tspan><tspan x="531.5" dy="14">。</tspan></text><path class="u" d="M527 1285.6H728"/></g>
<g id="p2-4"><text class="t" x="809" y="1383">四、总结</text><path class="u" d="M790 1389.6H851.6"/></g>
<g id="p2-4-a"><text class="t" x="589.5" y="1321"><tspan x="589.5">经过深入细致的排查，全校周边安全和消防安</tspan><tspan x="589.5" dy="12.4">全方面无重大安全隐患存在。在今后的工作中</tspan><tspan x="589.5" dy="12.4">，我们将一如既往的狠抓学校安全工作，牢固</tspan><tspan x="589.5" dy="12.4">树立"安全第一，预防为主"的思想，做到教育</tspan><tspan x="589.5" dy="12.4">预防在前，确保全校师生生命及财产安全，杜</tspan><tspan x="589.5" dy="12.4">绝各种安全事故的发生。</tspan></text><path class="u" d="M584.6 1389.6H784.5"/></g>

<g id="p4-intro"><text class="t" x="656" y="1530.5"><tspan x="656">20__年，在县委、县政府和县安委会的正确</tspan><tspan x="656" dy="12.35">领导下，我乡结合年初制订的安全生产目标责</tspan><tspan x="656" dy="12.35">任书和单位实际，紧紧围绕"创建平安礌溪，</tspan><tspan x="656" dy="12.35">构建和谐社会"的奋斗目标，坚持 "以人为本"</tspan><tspan x="656" dy="12.35">的管理理念，认真贯彻"安全第一，预防为主</tspan><tspan x="656" dy="12.35">，综合治理"的方针，牢固树立"安全生产重于</tspan><tspan x="656" dy="12.35">泰山"的安全意识，完善和落实安全生产责任</tspan><tspan x="656" dy="12.35">制，加强安全生产管理，较好地完成了安全生</tspan><tspan x="656" dy="12.35">产工作任务，促进了我乡各项工作的顺利开展</tspan><tspan x="656" dy="12.35">。现将隐患排查工作总结如下：</tspan></text><path class="u" d="M641.7 1649H851.6"/></g>
<g id="p4-1"><text class="t" x="484.6" y="1588.2">一、加强组织领导，提高责任意识</text><path class="u" d="M470 1595.7H633.5"/></g>
<g id="p4-1-1"><text class="t" x="265.5" y="1425"><tspan x="265.5">年初，我乡召开了安全生产工作会议，在全面</tspan><tspan x="265.5" dy="12.4">总结上一年安全生产工作的基础上，对本年安</tspan><tspan x="265.5" dy="12.4">全生产工作进行了安排。成立了安全生产工作</tspan><tspan x="265.5" dy="12.4">领导小组，与乡镇内各企业负责人各村委会领</tspan><tspan x="265.5" dy="12.4">导签订了安全生产责任书，明确了各村委会及</tspan><tspan x="265.5" dy="12.4">各企业的安全生产责任及安全生产任务，把安</tspan><tspan x="265.5" dy="12.4">全生产责任通过责任书的形式予以明确，使安</tspan><tspan x="265.5" dy="12.4">全责任层层落实，建立了完善的安全生产管理</tspan><tspan x="265.5" dy="12.4">网络。</tspan></text><path class="u" d="M260 1531.6H462"/></g>
<g id="p4-1-2"><text class="t" x="265.5" y="1566.5"><tspan x="265.5">另外，我们认真组织干部职工和相关从业人员</tspan><tspan x="265.5" dy="12.3">学习《中华人民共和国安全生产法》等相关法</tspan><tspan x="265.5" dy="12.3">律法规，进行多方式的安全教育，使大家充分</tspan><tspan x="265.5" dy="12.3">认识到安全生产是关系到人民生命和财产的重</tspan><tspan x="265.5" dy="12.3">大问题。提高了安全意识，加强执行国家关于</tspan><tspan x="265.5" dy="12.3">安全生产的法律法规的自觉性，切实把安全工</tspan><tspan x="265.5" dy="12.3">作作为重中之重的管理内容来抓，把预防工作</tspan><tspan x="265.5" dy="12.3">做在前面，避免或减少事故的发生。</tspan></text><path class="u" d="M260 1659.2H462"/></g>
<g id="p4-2"><text class="t" x="484.6" y="1695.3">二、落实各项措施，提高管理力度</text><path class="u" d="M479 1702.4H633.5"/></g>
<g id="p4-intro2"><text class="t" x="656" y="1855.5"><tspan x="656">安全生产工作能否做好，关键在于管理措施的</tspan><tspan x="656" dy="12.3">健全与落实。为使安全工作管理落在实处，我</tspan><tspan x="656" dy="12.3">们制定了多项措施并狠抓落实：</tspan></text><path class="u" d="M641.7 1886.8H851.6"/></g>
<g id="p4-i2-1"><text class="t" x="437" y="1738.2"><tspan x="437">1、建立健全安全生产工作责任制度。健全了</tspan><tspan x="437" dy="12.25">各项安全生产规章制度，形成一级抓一级，层</tspan><tspan x="437" dy="12.25">级负责的安全生产机制。"一把手"为安全生产</tspan><tspan x="437" dy="12.25">第一责任人，负全面领导责任；分管安全生产</tspan><tspan x="437" dy="12.25">工作的副职领导为第二责任人，负直接领导责</tspan><tspan x="437" dy="12.25">任。</tspan></text><path class="u" d="M430.7 1806.5H633.5"/></g>
<g id="p4-i2-2"><text class="t" x="437" y="1863"><tspan x="437">2、大力做好安全生产宣传教育工作。20__年</tspan><tspan x="437" dy="12.3">我乡加大宣传的覆盖面，大力宣传安全生产的</tspan><tspan x="437" dy="12.3">重要性、必要性。通过加大宣传教育力度，使</tspan><tspan x="437" dy="12.3">干部职工及相关从为业人员明确了安全生产工</tspan><tspan x="437" dy="12.3">作的基本任务及主要目标，明确了范围及工作</tspan><tspan x="437" dy="12.3">责任，明确了争创工作的重要性和紧迫性，提</tspan><tspan x="437" dy="12.3">高了干部职工的安全意识。同时，也使大家真</tspan><tspan x="437" dy="12.3">正明白到，做好安全生产工作，是县委、县政</tspan><tspan x="437" dy="12.3">府建设和谐社会、和谐富民的一项重要任务。</tspan></text><path class="u" d="M430.7 1967.6H633.5"/></g>
<g id="p4-i2-2-3"><text class="t" x="265.5" y="1961.3">三、加强安全检查，提高整治力度</text><path class="u" d="M260 1967.6H421"/></g>

<g id="p6-intro"><text class="t" x="656" y="2169.8"><tspan x="656">根据公司对第三季度安全工作安排要求，我们</tspan><tspan x="656" dy="12.25">对各单位安全隐患进行了全面排查，现将本季</tspan><tspan x="656" dy="12.25">度的安全隐患排查情况进行总结如下：</tspan></text><path class="u" d="M641.7 2201H851.6"/></g>
<g id="p6-1"><text class="t" x="513" y="2173">一、安全隐患排查统计情况</text><path class="u" d="M507 2180.6H633.5"/></g>
<g id="p6-1-a"><text class="t" x="294" y="2062.5"><tspan x="294">第三季度通过公司有关部室对各单位进行分类</tspan><tspan x="294" dy="12.3">检查，共查出安全隐患56处，矿山54处，尾</tspan><tspan x="294" dy="12.3">矿库2处。其中：矿山通风10处，尾矿库2处</tspan><tspan x="294" dy="12.3">，汛期防洪3处，线路挂置8处，顶板管理2处</tspan><tspan x="294" dy="12.3">，机电设备10处，规章制度5处，其它16处。</tspan><tspan x="294" dy="12.3">对发现的安全隐患，有关部门责令相关单位能</tspan><tspan x="294" dy="12.3">整改的当场已整改，对不能立即整改需限期整</tspan><tspan x="294" dy="12.3">改的都下达了隐患整改通知书，限期进行整改</tspan><tspan x="294" dy="12.3">。本季度共计下达9份隐患整改通知书限期整</tspan><tspan x="294" dy="12.3">改，共整改隐患项目56项。</tspan></text><path class="u" d="M288.8 2180.6H503"/></g>
<g id="p6-2"><text class="t" x="531.5" y="2216">二、安全隐患原因分析</text><path class="u" d="M527.4 2222.6H633.5"/></g>
<g id="p6-intro2"><text class="t" x="656" y="2714"><tspan x="656">针对第三季度隐患排查情况统计、分析，主要</tspan><tspan x="656" dy="12.1">存在以下原因：</tspan></text><path class="u" d="M641.7 2733.6H851.6"/></g>
<g id="p6-i-1"><text class="t" x="437" y="2257.5"><tspan x="437">1、矿井通风问题：部分密闭墙未彻底封闭、</tspan><tspan x="437" dy="12.4">天井上口密封不严导致漏风、穿脉未安装小风</tspan><tspan x="437" dy="12.4">门等问题，导致这些问题的根本因素是：现场</tspan><tspan x="437" dy="12.4">监督检查力度不大、管理不到位;作业人员及</tspan><tspan x="437" dy="12.4">安全检查人员不认真负责，对现场安全确认、</tspan><tspan x="437" dy="12.4">检查含糊，漏风问题不能达到有效治理，现场</tspan><tspan x="437" dy="12.4">管理不严密等。</tspan></text><path class="u" d="M430.7 2339.2H633.5"/></g>
<g id="p6-i-2"><text class="t" x="437" y="2416.8"><tspan x="437">2、线路挂置问题主要存在部分电缆出线老化</tspan><tspan x="437" dy="12.4">、电缆于电缆捆绑在一起、电缆线接头不规范</tspan><tspan x="437" dy="12.4">、照明线架设不规范有明口、照明刀闸用铝丝</tspan><tspan x="437" dy="12.4">、铜丝代替保险丝等问题。主要原因是：</tspan></text><path class="u" d="M430.7 2461H633.5"/></g>
<g id="p6-i-3"><text class="t" x="437" y="2563.2"><tspan x="437">3、顶板有险情，主要原因是：浮石处理不彻</tspan><tspan x="437" dy="12.5">底，监督检查不到位的结果。</tspan></text><path class="u" d="M430.7 2582.8H633.5"/></g>
<g id="p6-i-4"><text class="t" x="437" y="2617.5"><tspan x="437">4、标志牌损坏严重、巷道交叉口无明显标志</tspan><tspan x="437" dy="12.4">、领导下井跟班制度力度执行不到位、井下跟</tspan><tspan x="437" dy="12.4">班记录填写不规范等问题。主要原因是：领导</tspan><tspan x="437" dy="12.4">对安全工作不重视、制度落实不到位、责任落</tspan><tspan x="437" dy="12.4">实不明确、对存在隐患即使发现、也不做处理</tspan><tspan x="437" dy="12.4">、不填制记录。</tspan></text><path class="u" d="M430.7 2687H633.5"/></g>
<g id="p6-i-5"><text class="t" x="437" y="2722.3"><tspan x="437">5、防汛工作主要存在地表塌陷区部分地段存</tspan><tspan x="437" dy="12.3">在堵塞现象，造成排水不畅通、排水系统备用</tspan><tspan x="437" dy="12.3">管道不能有效使用等问题。主要原因是：防范</tspan><tspan x="437" dy="12.3">措施不力、管理上存在漏洞，检查不到位等原</tspan><tspan x="437" dy="12.3">因所造成。</tspan></text><path class="u" d="M430.7 2778H633.5"/></g>
<g id="p6-i-6"><text class="t" x="437" y="2814"><tspan x="437">6、机电设备主要是电机车无制动装置、罐车</tspan><tspan x="437" dy="12.4">连接环严重磨损、主风机房一级电机轴承温度</tspan><tspan x="437" dy="12.4">表坏、砂轮机无侧盖等问题、主要原因是：对</tspan><tspan x="437" dy="12.4">设备不能进行及时检查维护，磨损的部件不能</tspan><tspan x="437" dy="12.4">及时更换，为安全工作埋下隐患，领导对设备</tspan><tspan x="437" dy="12.4">检查不督促、反映的问题不处理、不落实等因</tspan><tspan x="437" dy="12.4">素造成。</tspan></text><path class="u" d="M430.7 2894.3H633.5"/></g>
<g id="p6-i-7"><text class="t" x="437" y="2930.7"><tspan x="437">7、尾矿库主要存在排放记录填写不规范、排</tspan><tspan x="437" dy="12.35">洪渠局部渗漏等问题。原因是：员工文化水平</tspan><tspan x="437" dy="12.35">较低，书写比较潦草，领导对防洪组织工作不</tspan><tspan x="437" dy="12.35">严密、检查不细，对存在的问题或隐患不能及</tspan><tspan x="437" dy="12.35">时处理。</tspan></text><path class="u" d="M430.7 2986.5H633.5"/></g>
<g id="p6-i-8"><text class="t" x="437" y="3034"><tspan x="437">8、其它方面问题是漏斗下代料未设置照明、</tspan><tspan x="437" dy="12.4">切割井留岩不系安全带、勾料工的安全带无闭</tspan><tspan x="437" dy="12.4">锁装置，起不到防护作用、风门不能随手关闭</tspan><tspan x="437" dy="12.4">、部分管道未设置消防阀门、溜井料格未按规</tspan><tspan x="437" dy="12.4">定尺寸铺设、农用车刹车不灵敏等问题，主要</tspan><tspan x="437" dy="12.4">存在的原因是：员工安全意识不强、安全管理</tspan><tspan x="437" dy="12.4">工作不到位、检查力度不够、三违现象严重等</tspan><tspan x="437" dy="12.4">问题。</tspan></text><path class="u" d="M430.7 3127.4H633.5"/></g>

<g id="watermarks">
<text class="wm" transform="translate(355 700) rotate(-31.5)">树图 shutu.cn</text>
<text class="wm" transform="translate(1640 690) rotate(-31.5)">树图 shutu.cn</text>
<text class="wm" transform="translate(355 1705) rotate(-31.5)">树图 shutu.cn</text>
<text class="wm" transform="translate(1640 1700) rotate(-31.5)">树图 shutu.cn</text>
<text class="wm" transform="translate(355 2690) rotate(-31.5)">树图 shutu.cn</text>
<text class="wm" transform="translate(1640 2685) rotate(-31.5)">树图 shutu.cn</text>
<text class="wm" transform="translate(355 3675) rotate(-31.5)">树图 shutu.cn</text>
<text class="wm" transform="translate(1640 3670) rotate(-31.5)">树图 shutu.cn</text>
</g>
</svg>
